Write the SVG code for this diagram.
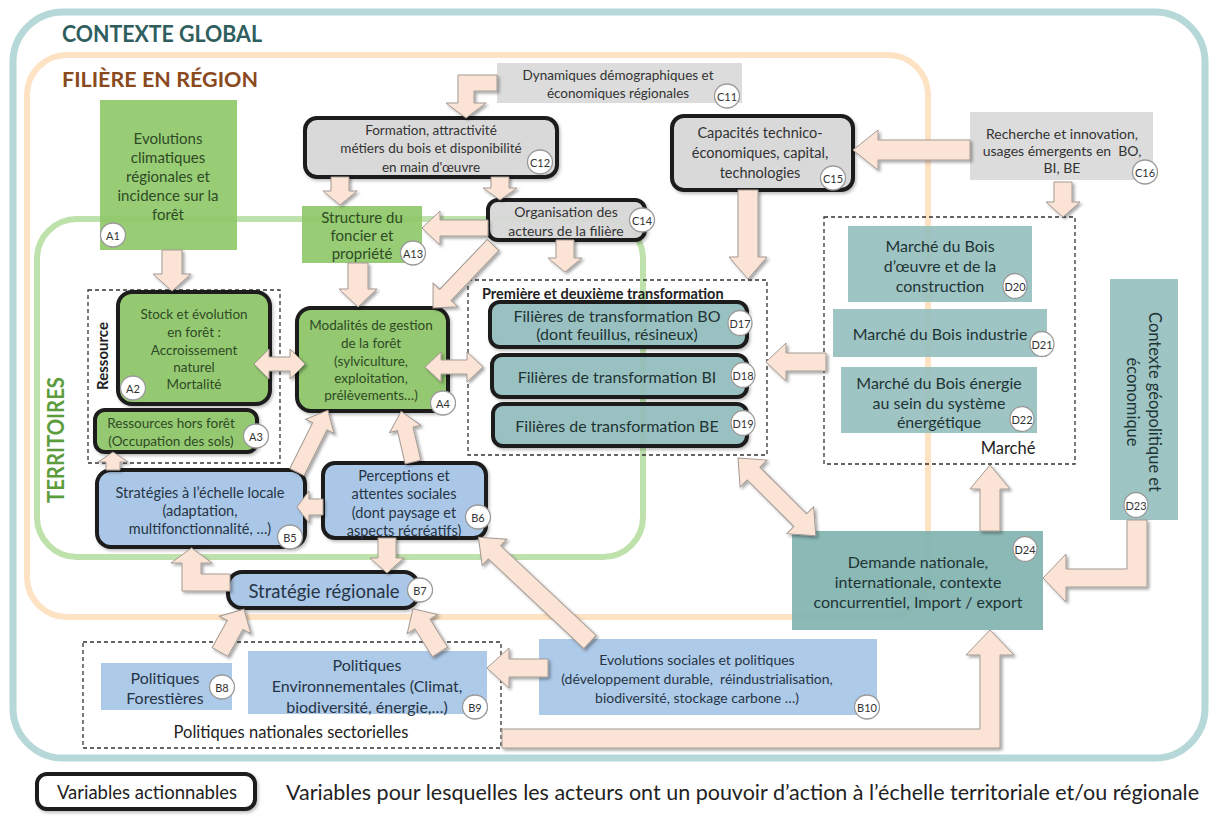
<svg xmlns="http://www.w3.org/2000/svg" width="1211" height="819" viewBox="0 0 1211 819">
  <defs>
    <filter id="sh" x="-10%" y="-10%" width="120%" height="120%">
      <feDropShadow dx="2" dy="2" stdDeviation="1.4" flood-color="#000" flood-opacity="0.35"/>
    </filter>
    <filter id="nsh" x="-10%" y="-10%" width="120%" height="130%">
      <feDropShadow dx="1.5" dy="2" stdDeviation="1.5" flood-color="#000" flood-opacity="0.25"/>
    </filter>
    <style>
      .t { font-family: Lato, "Open Sans", sans-serif; text-anchor: middle; dominant-baseline: central; }
      .fr-teal { fill: none; stroke: #b6d8d8; stroke-width: 7; }
      .fr-orange { fill: none; stroke: #fde2c3; stroke-width: 6; }
      .fr-green { fill: none; stroke: #bfe2ad; stroke-width: 6; }
      .dash { fill: none; stroke: #333; stroke-width: 1.3; stroke-dasharray: 4 3; }
      .dashw { fill: #fff; stroke: #333; stroke-width: 1.3; stroke-dasharray: 4 3; }
      .g { fill: #8dc866; fill-opacity: 0.9; }
      .gr { fill: #d9d9d9; fill-opacity: 0.92; }
      .bl { fill: #a7c6e7; fill-opacity: 0.92; }
      .tl { fill: #93bfbe; fill-opacity: 0.9; }
      .act { stroke: #1c1c1c; stroke-width: 4; filter: url(#nsh); }
      .tg { fill: #2f4a26; }
      .tgr { fill: #333; }
      .tb { fill: #263545; }
      .tt { fill: #1f3434; }
      .lab ellipse { fill: #fff; stroke: #9a9a9a; stroke-width: 1.3; }
      .lab text { font-family: Lato, "Open Sans", sans-serif; font-size: 11px; fill: #333; text-anchor: middle; dominant-baseline: central; }
      .arr polygon { fill: #fbe4d6; stroke: #a39a94; stroke-width: 1; }
    </style>
  </defs>

  <rect width="1211" height="819" fill="#fff"/>

  <!-- nested context frames -->
  <g id="frames">
    <rect class="fr-teal" x="13" y="12" width="1192" height="746" rx="50"/>
    <rect class="fr-orange" x="27" y="55" width="901" height="562" rx="40"/>
    <rect class="fr-green" x="37" y="219" width="606" height="338" rx="40"/>
    <text x="62" y="42" font-family="Lato, sans-serif" font-weight="bold" font-size="22" fill="#2f5e5e" textLength="200" lengthAdjust="spacingAndGlyphs">CONTEXTE GLOBAL</text>
    <text x="62" y="87" font-family="Lato, sans-serif" font-weight="bold" font-size="21" fill="#8a4a1e" textLength="196" lengthAdjust="spacingAndGlyphs">FILIÈRE EN RÉGION</text>
    <text class="t" transform="translate(55,440) rotate(-90)" font-weight="bold" font-size="22" fill="#5c9c3c" textLength="126" lengthAdjust="spacingAndGlyphs">TERRITOIRES</text>
  </g>

  <!-- dashed groupings -->
  <g id="groups">
    <rect class="dash" x="88" y="290" width="192" height="173"/>
    <text class="t" transform="translate(102,356) rotate(-90)" font-weight="bold" font-size="15" fill="#222">Ressource</text>
    <rect class="dash" x="468" y="280" width="299" height="175"/>
    <text x="482" y="293" font-family="Lato, sans-serif" font-weight="bold" font-size="14.5" fill="#222" dominant-baseline="central">Première et deuxième transformation</text>
    <rect class="dash" x="824" y="217" width="251" height="247"/>
    <text class="t" x="1008" y="448" font-size="16.5" fill="#222">Marché</text>
    <rect class="dashw" x="83" y="642" width="418" height="106"/>
    <text class="t" x="291" y="732" font-size="16.5" fill="#222">Politiques nationales sectorielles</text>
  </g>

  <!-- ressource / forêt -->
  <g id="n-A1">
    <rect class="g" x="100" y="100" width="137" height="150"/>
    <text class="t tg" font-size="15"><tspan x="168" y="138">Evolutions</tspan><tspan x="168" y="157">climatiques</tspan><tspan x="168" y="176">régionales et</tspan><tspan x="168" y="195">incidence sur la</tspan><tspan x="168" y="214">forêt</tspan></text>
    <g class="lab"><ellipse cx="113" cy="235" rx="12.5" ry="12"/><text x="113" y="235">A1</text></g>
  </g>
  <g id="n-A2">
    <rect class="g act" x="118" y="292" width="152" height="112" rx="14"/>
    <text class="t tg" font-size="13.5"><tspan x="194" y="314">Stock et évolution</tspan><tspan x="194" y="332">en forêt :</tspan><tspan x="194" y="350">Accroissement</tspan><tspan x="194" y="367">naturel</tspan><tspan x="194" y="384">Mortalité</tspan></text>
    <g class="lab"><ellipse cx="133" cy="388" rx="12.5" ry="12"/><text x="133" y="388">A2</text></g>
  </g>
  <g id="n-A3">
    <rect class="g act" x="95" y="410" width="162" height="42" rx="10"/>
    <text class="t tg" font-size="13.5"><tspan x="171" y="423">Ressources hors forêt</tspan><tspan x="171" y="441">(Occupation des sols)</tspan></text>
    <g class="lab"><ellipse cx="256" cy="436" rx="12.5" ry="12"/><text x="256" y="436">A3</text></g>
  </g>
  <g id="n-A13">
    <rect class="g" x="302" y="206" width="120" height="57"/>
    <text class="t tg" font-size="15"><tspan x="362" y="217">Structure du</tspan><tspan x="362" y="235">foncier et</tspan><tspan x="362" y="253">propriété</tspan></text>
    <g class="lab"><ellipse cx="413" cy="253" rx="12.5" ry="12"/><text x="413" y="253">A13</text></g>
  </g>
  <g id="n-A4">
    <rect class="g act" x="297" y="308" width="151" height="103" rx="14"/>
    <text class="t tg" font-size="13.5"><tspan x="371" y="325">Modalités de gestion</tspan><tspan x="371" y="343">de la forêt</tspan><tspan x="371" y="361">(sylviculture,</tspan><tspan x="371" y="378">exploitation,</tspan><tspan x="371" y="395">prélèvements…)</tspan></text>
    <g class="lab"><ellipse cx="443" cy="403" rx="12.5" ry="12"/><text x="443" y="403">A4</text></g>
  </g>

  <!-- contexte socio-économique -->
  <g id="n-C11">
    <rect class="gr" x="497" y="63" width="245" height="40"/>
    <text class="t tgr" font-size="13.5"><tspan x="618" y="75">Dynamiques démographiques et</tspan><tspan x="618" y="93">économiques régionales</tspan></text>
    <g class="lab"><ellipse cx="727" cy="96" rx="12.5" ry="12"/><text x="727" y="96">C11</text></g>
  </g>
  <g id="n-C12">
    <rect class="gr act" x="305" y="118" width="252" height="59" rx="12"/>
    <text class="t tgr" font-size="13.5"><tspan x="431" y="130">Formation, attractivité</tspan><tspan x="431" y="148">métiers du bois et disponibilité</tspan><tspan x="431" y="167">en main d'œuvre</tspan></text>
    <g class="lab"><ellipse cx="540" cy="162" rx="12.5" ry="12"/><text x="540" y="162">C12</text></g>
  </g>
  <g id="n-C14">
    <rect class="gr act" x="488" y="200" width="157" height="40" rx="10"/>
    <text class="t tgr" font-size="14"><tspan x="566" y="211">Organisation des</tspan><tspan x="566" y="230">acteurs de la filière</tspan></text>
    <g class="lab"><ellipse cx="642" cy="220" rx="12.5" ry="12"/><text x="642" y="220">C14</text></g>
  </g>
  <g id="n-C15">
    <rect class="gr act" x="672" y="116" width="181" height="74" rx="12"/>
    <text class="t tgr" font-size="14.5"><tspan x="760" y="132">Capacités technico-</tspan><tspan x="760" y="152">économiques, capital,</tspan><tspan x="760" y="172">technologies</tspan></text>
    <g class="lab"><ellipse cx="833" cy="178" rx="12.5" ry="12"/><text x="833" y="178">C15</text></g>
  </g>
  <g id="n-C16">
    <rect class="gr" x="970" y="112" width="183" height="68"/>
    <text class="t tgr" font-size="14"><tspan x="1062" y="133">Recherche et innovation,</tspan><tspan x="1062" y="150">usages émergents en&#160; BO,</tspan><tspan x="1062" y="167">BI, BE</tspan></text>
    <g class="lab"><ellipse cx="1145" cy="172" rx="12.5" ry="12"/><text x="1145" y="172">C16</text></g>
  </g>

  <!-- transformation -->
  <g id="n-D17">
    <rect class="tl act" x="490" y="302" width="257" height="45" rx="10"/>
    <text class="t tt" font-size="16"><tspan x="617" y="315">Filières de transformation BO</tspan><tspan x="617" y="333">(dont feuillus, résineux)</tspan></text>
    <g class="lab"><ellipse cx="740" cy="323" rx="12" ry="12.5"/><text x="740" y="323">D17</text></g>
  </g>
  <g id="n-D18">
    <rect class="tl act" x="492" y="355" width="255" height="42" rx="10"/>
    <text class="t tt" font-size="16" x="617" y="376">Filières de transformation BI</text>
    <g class="lab"><ellipse cx="743" cy="375" rx="12" ry="12.5"/><text x="743" y="375">D18</text></g>
  </g>
  <g id="n-D19">
    <rect class="tl act" x="493" y="404" width="254" height="42" rx="10"/>
    <text class="t tt" font-size="16" x="617" y="425">Filières de transformation BE</text>
    <g class="lab"><ellipse cx="743" cy="423" rx="12" ry="12.5"/><text x="743" y="423">D19</text></g>
  </g>

  <!-- marché -->
  <g id="n-D20">
    <rect class="tl" x="848" y="226" width="184" height="76"/>
    <text class="t tt" font-size="16"><tspan x="940" y="245">Marché du Bois</tspan><tspan x="940" y="265">d’œuvre et de la</tspan><tspan x="940" y="285">construction</tspan></text>
    <g class="lab"><ellipse cx="1015" cy="286" rx="12" ry="12.5"/><text x="1015" y="286">D20</text></g>
  </g>
  <g id="n-D21">
    <rect class="tl" x="833" y="309" width="214" height="48"/>
    <text class="t tt" font-size="16" x="940" y="333">Marché du Bois industrie</text>
    <g class="lab"><ellipse cx="1042" cy="344" rx="12" ry="12.5"/><text x="1042" y="344">D21</text></g>
  </g>
  <g id="n-D22">
    <rect class="tl" x="841" y="367" width="196" height="66"/>
    <text class="t tt" font-size="16"><tspan x="939" y="382">Marché du Bois énergie</tspan><tspan x="939" y="402">au sein du système</tspan><tspan x="939" y="421">énergétique</tspan></text>
    <g class="lab"><ellipse cx="1022" cy="419" rx="12" ry="12.5"/><text x="1022" y="419">D22</text></g>
  </g>
  <g id="n-D23">
    <rect class="tl" x="1110" y="279" width="68" height="241"/>
    <text class="t tt" font-size="16.5" transform="translate(1144,402) rotate(90)"><tspan x="0" y="-11">Contexte géopolitique et</tspan><tspan x="0" y="11">économique</tspan></text>
    <g class="lab"><ellipse cx="1136" cy="505" rx="12" ry="12.5"/><text x="1136" y="505">D23</text></g>
  </g>
  <g id="n-D24">
    <rect fill="#80b3b0" fill-opacity="0.92" x="792" y="531" width="251" height="99"/>
    <text class="t tt" font-size="16"><tspan x="918" y="561">Demande nationale,</tspan><tspan x="918" y="581">internationale, contexte</tspan><tspan x="918" y="601">concurrentiel, Import / export</tspan></text>
    <g class="lab"><ellipse cx="1025" cy="549" rx="12" ry="12.5"/><text x="1025" y="549">D24</text></g>
  </g>

  <!-- stratégies et politiques -->
  <g id="n-B5">
    <rect class="bl act" x="97" y="470" width="208" height="77" rx="14"/>
    <text class="t tb" font-size="14.5"><tspan x="200" y="492">Stratégies à l’échelle locale</tspan><tspan x="200" y="510">(adaptation,</tspan><tspan x="200" y="528">multifonctionnalité, …)</tspan></text>
    <g class="lab"><ellipse cx="290" cy="537" rx="12.5" ry="12"/><text x="290" y="537">B5</text></g>
  </g>
  <g id="n-B6">
    <rect class="bl act" x="323" y="463" width="163" height="75" rx="12"/>
    <text class="t tb" font-size="14.5"><tspan x="404" y="475">Perceptions et</tspan><tspan x="404" y="493">attentes sociales</tspan><tspan x="404" y="512">(dont paysage et</tspan><tspan x="404" y="530">aspects récréatifs)</tspan></text>
    <g class="lab"><ellipse cx="478" cy="517" rx="12.5" ry="12"/><text x="478" y="517">B6</text></g>
  </g>
  <g id="n-B7">
    <rect class="bl act" x="228" y="572" width="190" height="36" rx="14"/>
    <text class="t tb" x="324" y="591" font-size="18.5">Stratégie régionale</text>
    <g class="lab"><ellipse cx="420" cy="590" rx="12.5" ry="12"/><text x="420" y="590">B7</text></g>
  </g>
  <g id="n-B8">
    <rect class="bl" x="101" y="663" width="131" height="47"/>
    <text class="t tb" font-size="16"><tspan x="165" y="677">Politiques</tspan><tspan x="165" y="697">Forestières</tspan></text>
    <g class="lab"><ellipse cx="222" cy="687" rx="12.5" ry="12"/><text x="222" y="687">B8</text></g>
  </g>
  <g id="n-B9">
    <rect class="bl" x="248" y="651" width="239" height="63"/>
    <text class="t tb" font-size="16"><tspan x="367" y="664">Politiques</tspan><tspan x="367" y="685">Environnementales (Climat,</tspan><tspan x="367" y="706">biodiversité, énergie,…)</tspan></text>
    <g class="lab"><ellipse cx="475" cy="707" rx="12.5" ry="12"/><text x="475" y="707">B9</text></g>
  </g>
  <g id="n-B10">
    <rect class="bl" x="539" y="639" width="338" height="76"/>
    <text class="t tb" font-size="14"><tspan x="697" y="659">Evolutions sociales et politiques</tspan><tspan x="697" y="678">(développement durable,&#160; réindustrialisation,</tspan><tspan x="697" y="697">biodiversité, stockage carbone …)</tspan></text>
    <g class="lab"><ellipse cx="867" cy="707" rx="12.5" ry="12"/><text x="867" y="707">B10</text></g>
  </g>

  <!-- block arrows -->
  <g id="connectors" class="arr" filter="url(#sh)">
    <polygon transform="translate(172,250) rotate(90)" points="0,-10 24,-10 24,-19 41,0 24,19 24,10 0,10"/>
    <polygon points="497,75 458,75 458,103 446,103 466,118 486,103 474,103 474,91 497,91"/>
    <polygon transform="translate(340,177) rotate(90)" points="0,-9 14,-9 14,-17 28,0 14,17 14,9 0,9"/>
    <polygon transform="translate(500,177) rotate(90)" points="0,-9 11,-9 11,-17 23,0 11,17 11,9 0,9"/>
    <polygon transform="translate(488,228) rotate(180)" points="0,-8 48,-8 48,-17 66,0 48,17 48,8 0,8"/>
    <polygon transform="translate(493,245) rotate(133.6)" points="0,-8 69,-8 69,-17 87,0 69,17 69,8 0,8"/>
    <polygon transform="translate(565,240) rotate(90)" points="0,-9 18,-9 18,-17 32,0 18,17 18,9 0,9"/>
    <polygon transform="translate(358,263) rotate(90)" points="0,-10 26,-10 26,-19 44,0 26,19 26,10 0,10"/>
    <polygon transform="translate(748,190) rotate(90)" points="0,-10 67,-10 67,-19 89,0 67,19 67,10 0,10"/>
    <polygon transform="translate(970,150) rotate(180)" points="0,-10 92,-10 92,-20 117,0 92,20 92,10 0,10"/>
    <polygon transform="translate(1063,182) rotate(90)" points="0,-9 20,-9 20,-17 35,0 20,17 20,9 0,9"/>
    <polygon transform="translate(254,364)" points="0,0 15,-15 15,-7 36,-7 36,-15 51,0 36,15 36,7 15,7 15,15"/>
    <polygon transform="translate(425,367)" points="0,0 16,-15 16,-7 42,-7 42,-15 58,0 42,15 42,7 16,7 16,15"/>
    <polygon transform="translate(826,362) rotate(180)" points="0,-9 40,-9 40,-19 60,0 40,19 40,9 0,9"/>
    <polygon transform="translate(113,470) rotate(-90)" points="0,-7 8,-7 8,-15 18,0 8,15 8,7 0,7"/>
    <polygon transform="translate(297,472) rotate(-63.4)" points="0,-8 51,-8 51,-16 69,0 51,16 51,8 0,8"/>
    <polygon transform="translate(413,462) rotate(-103.2)" points="0,-8 34,-8 34,-16 52,0 34,16 34,8 0,8"/>
    <polygon transform="translate(323,507) rotate(180)" points="0,-8 14,-8 14,-16 26,0 14,16 14,8 0,8"/>
    <polygon transform="translate(387,538) rotate(90)" points="0,-9 20,-9 20,-17 35,0 20,17 20,9 0,9"/>
    <polygon points="230,574 201,574 201,563 212,563 191.5,548 171,563 182,563 182,591 230,591"/>
    <polygon transform="translate(220,652) rotate(-60.8)" points="0,-9 31,-9 31,-18 49,0 31,18 31,9 0,9"/>
    <polygon transform="translate(440,652) rotate(-122.1)" points="0,-9 33,-9 33,-18 51,0 33,18 33,9 0,9"/>
    <polygon transform="translate(548,668) rotate(180)" points="0,-9 39,-9 39,-20 61,0 39,20 39,9 0,9"/>
    <polygon transform="translate(590,642) rotate(-136.8)" points="0,-9 131,-9 131,-18 153,0 131,18 131,9 0,9"/>
    <polygon points="502,729 980,729 980,655 966,655 990,630 1014,655 1000,655 1000,748 502,748"/>
    <polygon transform="translate(738,458) rotate(45)" points="0,0 22,-19 22,-9 88,-9 88,-19 110,0 88,19 88,9 22,9 22,19"/>
    <polygon transform="translate(990,531) rotate(-90)" points="0,-10 42,-10 42,-20 66,0 42,20 42,10 0,10"/>
    <polygon points="1127,520 1147,520 1147,587 1066,587 1066,602 1043,578 1066,554 1066,569 1127,569"/>
  </g>

  <!-- legend -->
  <g id="legend">
    <rect x="37" y="774" width="218" height="35" rx="10" fill="#fff" class="act"/>
    <text class="t" x="147" y="792" font-size="18.5" fill="#222">Variables actionnables</text>
    <text x="286" y="792" font-family="Lato, sans-serif" font-size="21.5" fill="#222" dominant-baseline="central">Variables pour lesquelles les acteurs ont un pouvoir d’action à l’échelle territoriale et/ou régionale</text>
  </g>
</svg>
